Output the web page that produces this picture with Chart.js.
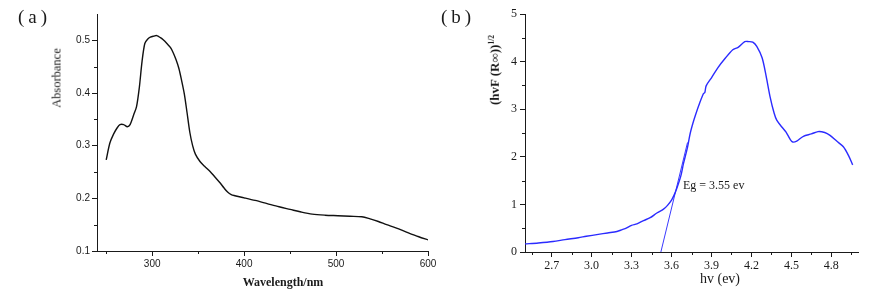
<!DOCTYPE html>
<html>
<head>
<meta charset="utf-8">
<script src="https://cdn.jsdelivr.net/npm/chart.js@4.4.1/dist/chart.umd.min.js"></script>
<style>
  body { margin: 0; background: #fff; }
  #wrap { position: relative; width: 876px; height: 296px; overflow: hidden; }
  canvas { position: absolute; top: 0; }
  .txt { position: absolute; color: #1a1a1a; font-family: "Liberation Serif", serif; white-space: nowrap; }
  .rot { transform: translate(-50%, -50%) rotate(-90deg); }
  .ctr { transform: translate(-50%, -50%); }
  .panel { font-size: 19px; letter-spacing: 4px; }
</style>
</head>
<body>
<div id="wrap">
  <canvas id="chartA" width="440" height="296" style="left:0"></canvas>
  <canvas id="chartB" width="436" height="296" style="left:440px"></canvas>
  <div class="txt panel" style="left:18px;top:6px">(a)</div>
  <div class="txt panel" style="left:441px;top:6px">(b)</div>
  <div class="txt rot" style="left:57px;top:78px;font-size:12.5px">Absorbance</div>
  <div class="txt ctr" style="left:283px;top:282px;font-size:12px;font-weight:bold">Wavelength/nm</div>
  <div class="txt rot" style="left:495px;top:70px;font-size:13px;font-weight:bold">(hvF (R∞))<sup style="font-size:7.5px">1/2</sup></div>
  <div class="txt ctr" style="left:720px;top:279px;font-size:14px">hv (ev)</div>
  <div class="txt" style="left:683px;top:178px;font-size:12px">Eg = 3.55 ev</div>
</div>
<script>
// (a) absorbance spectrum
const wavelength = [250, 254, 258, 262, 265, 269, 273, 276, 280, 283,
  286, 289, 292, 295, 298, 302, 305, 309, 312, 316,
  320, 323, 326, 329, 332, 335, 338, 341, 344, 347,
  352, 357, 363, 368, 374, 378, 382, 386, 390, 400,
  412, 425, 438, 450, 462, 474, 488, 502, 515, 528,
  537, 546, 555, 565, 578, 590, 600];
const absorbance = [0.273, 0.305, 0.322, 0.334, 0.340, 0.340, 0.336, 0.340, 0.359, 0.374,
  0.410, 0.460, 0.494, 0.502, 0.506, 0.508, 0.509, 0.505, 0.501, 0.494,
  0.486, 0.476, 0.463, 0.447, 0.424, 0.398, 0.362, 0.325, 0.300, 0.284,
  0.270, 0.261, 0.251, 0.241, 0.229, 0.220, 0.212, 0.207, 0.205, 0.201,
  0.196, 0.190, 0.184, 0.179, 0.174, 0.170, 0.168, 0.167, 0.166, 0.165,
  0.161, 0.156, 0.150, 0.144, 0.135, 0.127, 0.121];
const xTicksA = [300, 400, 500, 600];
const xMinorA = [250, 350, 450, 550];
const yTicksA = [0.1, 0.2, 0.3, 0.4, 0.5];
const yMinorA = [0.15, 0.25, 0.35, 0.45];

// (b) Tauc plot
const hv = [2.50, 2.60, 2.71, 2.80, 2.90, 2.96, 3.05, 3.12, 3.19, 3.23,
  3.26, 3.30, 3.34, 3.39, 3.44, 3.49, 3.54, 3.57, 3.60, 3.62,
  3.64, 3.67, 3.69, 3.72, 3.74, 3.76, 3.78, 3.81, 3.84, 3.85,
  3.86, 3.90, 3.95, 4.00, 4.06, 4.10, 4.15, 4.18, 4.21, 4.24,
  4.28, 4.31, 4.34, 4.37, 4.39, 4.43, 4.46, 4.49, 4.51, 4.54,
  4.59, 4.65, 4.70, 4.75, 4.79, 4.84, 4.89, 4.93, 4.96];
const tauc = [0.17, 0.19, 0.22, 0.26, 0.30, 0.33, 0.37, 0.40, 0.43, 0.47,
  0.50, 0.56, 0.59, 0.66, 0.72, 0.82, 0.90, 0.98, 1.09, 1.20,
  1.34, 1.60, 1.86, 2.20, 2.49, 2.70, 2.88, 3.12, 3.33, 3.35,
  3.49, 3.66, 3.88, 4.06, 4.25, 4.30, 4.42, 4.42, 4.41, 4.32,
  4.08, 3.70, 3.26, 2.92, 2.77, 2.62, 2.52, 2.37, 2.31, 2.33,
  2.43, 2.48, 2.53, 2.51, 2.45, 2.33, 2.21, 2.02, 1.83];
const tangentHv = [3.52, 3.72];
const tangentVal = [0, 2.3];
const xTicksB = [2.7, 3.0, 3.3, 3.6, 3.9, 4.2, 4.5, 4.8];
const xMinorB = [2.55, 2.85, 3.15, 3.45, 3.75, 4.05, 4.35, 4.65, 4.95];
const yTicksB = [0, 1, 2, 3, 4, 5];
const yMinorB = [0.5, 1.5, 2.5, 3.5, 4.5];

const ink = '#1a1a1a';

// short minor ticks, placed with the chart's own scales
const minorTicks = {
  id: 'minorTicks',
  afterDraw(chart, args, opts) {
    const ctx = chart.ctx, x = chart.scales.x, y = chart.scales.y;
    ctx.save();
    ctx.strokeStyle = ink;
    ctx.lineWidth = 1;
    opts.x.forEach(v => {
      const px = Math.round(x.getPixelForValue(v)) + 0.5;
      ctx.beginPath(); ctx.moveTo(px, x.top); ctx.lineTo(px, x.top + 3); ctx.stroke();
    });
    opts.y.forEach(v => {
      const py = Math.round(y.getPixelForValue(v)) + 0.5;
      ctx.beginPath(); ctx.moveTo(y.right, py); ctx.lineTo(y.right - 3, py); ctx.stroke();
    });
    ctx.restore();
  }
};

function axis(opts) {
  return {
    type: 'linear',
    min: opts.min, max: opts.max,
    border: { display: true, color: ink, width: 1 },
    grid: { drawOnChartArea: false, drawTicks: true, tickLength: 5, color: ink },
    ticks: {
      color: ink, padding: opts.pad, maxRotation: 0, autoSkip: false,
      font: opts.font,
      callback: opts.fmt
    },
    afterBuildTicks: s => { s.ticks = opts.ticks.map(v => ({ value: v })); },
    afterFit: s => { if (opts.w) s.width = opts.w; if (opts.h) s.height = opts.h; }
  };
}

new Chart(document.getElementById('chartA'), {
  type: 'line',
  data: {
    datasets: [{
      data: wavelength.map((w, i) => ({ x: w, y: absorbance[i] })),
      borderColor: '#111', borderWidth: 1.4, pointRadius: 0, tension: 0.3
    }]
  },
  options: {
    responsive: false, animation: false,
    layout: { padding: { left: 0, right: 12, top: 14, bottom: 0 } },
    plugins: { legend: { display: false }, tooltip: { enabled: false },
      minorTicks: { x: xMinorA, y: yMinorA } },
    scales: {
      x: axis({ min: 240, max: 600, ticks: xTicksA, h: 45, pad: 2,
        font: { family: 'Liberation Sans', size: 10 }, fmt: v => String(v) }),
      y: axis({ min: 0.1, max: 0.55, ticks: yTicksA, w: 97, pad: 2,
        font: { family: 'Liberation Sans', size: 10 }, fmt: v => v.toFixed(1) })
    }
  },
  plugins: [minorTicks]
});

new Chart(document.getElementById('chartB'), {
  type: 'line',
  data: {
    datasets: [{
      data: hv.map((e, i) => ({ x: e, y: tauc[i] })),
      borderColor: '#2b2bff', borderWidth: 1.4, pointRadius: 0, tension: 0.3
    }, {
      data: tangentHv.map((e, i) => ({ x: e, y: tangentVal[i] })),
      borderColor: '#3a3aff', borderWidth: 1, pointRadius: 0
    }]
  },
  options: {
    responsive: false, animation: false,
    layout: { padding: { left: 0, right: 18, top: 14, bottom: 0 } },
    plugins: { legend: { display: false }, tooltip: { enabled: false },
      minorTicks: { x: xMinorB, y: yMinorB } },
    scales: {
      x: axis({ min: 2.5, max: 5.0, ticks: xTicksB, h: 44, pad: 2,
        font: { family: 'Liberation Serif', size: 12 }, fmt: v => v.toFixed(1) }),
      y: axis({ min: 0, max: 5, ticks: yTicksB, w: 85, pad: 3,
        font: { family: 'Liberation Serif', size: 12 }, fmt: v => String(v) })
    }
  },
  plugins: [minorTicks]
});
</script>
</body>
</html>
